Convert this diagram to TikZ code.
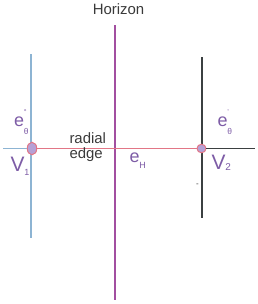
\documentclass[tikz,border=0pt]{standalone}
\usepackage{fontspec}
\setmainfont{Liberation Sans}
\usetikzlibrary{positioning,shapes.geometric}
\definecolor{hzMag}{HTML}{A24FA0}
\definecolor{vxBlue}{HTML}{8DB4D3}
\definecolor{vxDark}{HTML}{3B4041}
\definecolor{edgePink}{HTML}{E27686}
\definecolor{lblPurple}{HTML}{7D5CA6}
\definecolor{vxFill}{HTML}{B6A1D6}
\definecolor{txtGray}{HTML}{3A3A3A}
\newcommand{\ethetalbl}[1]{e\rlap{\raisebox{0.62em}{\fontsize{7}{7}\selectfont #1}}\raisebox{-0.45em}{\fontsize{8.5}{8.5}\selectfont θ}}

\begin{document}
\begin{tikzpicture}[x=1bp, y=-1bp,
  every node/.style={inner sep=0pt, outer sep=0pt},
  vtx/.style={ellipse, draw=edgePink, fill=vxFill, line width=1bp},
  lne/.style={line width=1.2bp},
  lbl/.style={text=lblPurple, font=\fontsize{18}{18}\selectfont},
  vlbl/.style={text=lblPurple, font=\fontsize{21}{21}\selectfont},
  txt/.style={text=txtGray, font=\fontsize{15}{15}\selectfont}
]
  \useasboundingbox (0,0) rectangle (258,304);
  \coordinate (hTop) at (115,25);
  \coordinate (hBot) at (115,300);
  \coordinate (aTop) at (31,54);
  \coordinate (aBot) at (31,238);
  \coordinate (aLeft) at (3,148.5);
  \coordinate (bTop) at (202,57);
  \coordinate (bBot) at (202,218);
  \coordinate (bRight) at (255,148.5);
  \draw[lne, hzMag] (hTop) -- (hBot);
  \draw[lne, vxBlue] (aTop) -- (aBot);
  \draw[lne, vxDark] (bTop) -- (bBot);
  \node[vtx, minimum width=9.5bp, minimum height=12.5bp] (v1) at (32,148.5) {};
  \node[vtx, minimum width=9bp, minimum height=8.5bp] (v2) at (201.5,148.5) {};
  \draw[lne, vxBlue] (aLeft) -- (v1);
  \draw[lne, edgePink] (v1) -- (v2);
  \draw[lne, vxDark] (v2) -- (bRight);
  \node[txt, anchor=base] (horizon) at (118.5,14.5) {Horizon};
  \node[txt, anchor=north west, align=left] (radial) at (69.5,133) {radial\\edge};
  \node[lbl, anchor=base west] (eth1) at (14,126) {\ethetalbl{°}};
  \node[lbl, anchor=base west] (eth2) at (217.5,126) {\ethetalbl{'}};
  \node[lbl, anchor=base west] (eh) at (129.5,162) {e\raisebox{-0.35em}{\fontsize{9}{9}\selectfont H}};
  \node[vlbl, anchor=base west] (vone) at (10.5,171.5) {V\raisebox{-0.2em}{\fontsize{9}{9}\selectfont 1}};
  \node[vlbl, anchor=base west] (vtwo) at (211.5,169.5) {V\raisebox{-0.05em}{\fontsize{10}{10}\selectfont 2}};
  \node[text=txtGray, font=\fontsize{8}{8}\selectfont] (dash) at (197.5,185) {-};
\end{tikzpicture}
\end{document}
